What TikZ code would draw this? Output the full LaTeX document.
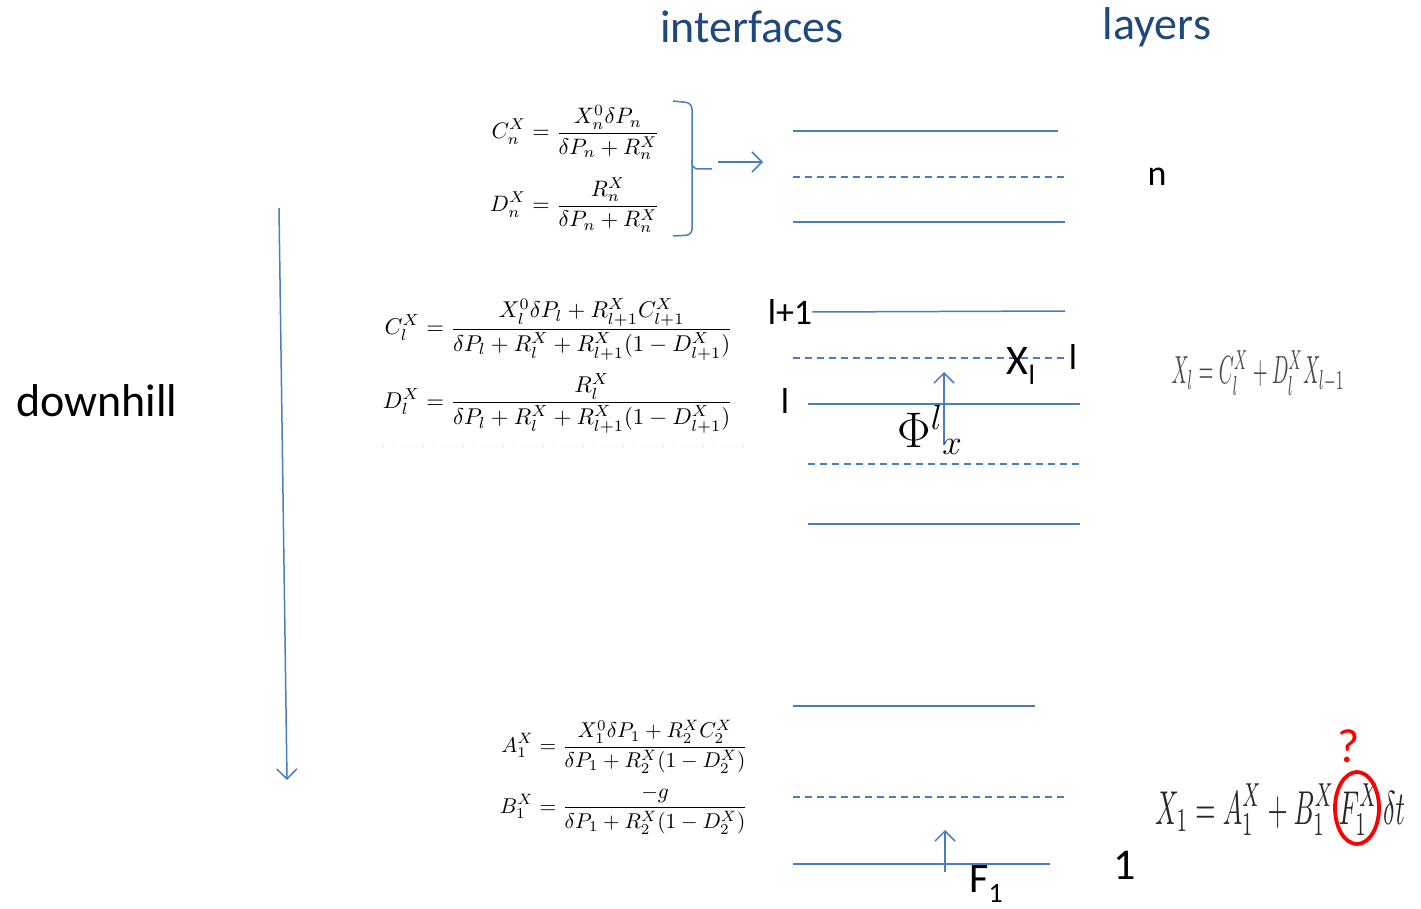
\RequirePackage{fix-cm}
\documentclass[tikz,border=0pt]{standalone}
\usepackage{amsmath}
\usepackage{graphicx}
\usepackage{fontspec}
\newfontfamily\calibri{Carlito}
\usepackage{tikz}
\usetikzlibrary{arrows.meta, shapes.geometric}

\definecolor{lineblue}{RGB}{74,126,187}
\definecolor{titleblue}{RGB}{31,73,125}

\begin{document}
\begin{tikzpicture}[
  x=1pt, y=-1pt,
  layer/.style={lineblue, line width=1.5pt},
  half/.style={layer, dash pattern=on 7pt off 5pt},
  flux/.style={lineblue, line width=1.5pt, -{Straight Barb[length=10pt, width=20pt]}},
  head/.style={font=\calibri\fontsize{46}{54}\selectfont, text=titleblue, inner sep=0pt},
  tag/.style={font=\calibri\fontsize{36}{42}\selectfont, inner sep=0pt},
  eq/.style={inner sep=0pt}
]
\useasboundingbox (0,0) rectangle (1421,909);

% titles
\node[head] (interfaces) at (752,27) {interfaces};
\node[head] (layers) at (1157,27) {layers};
\node[font=\calibri\fontsize{46}{54}\selectfont, inner sep=0pt] (downhill) at (97,401) {downhill};

% top group (layer n)
\node[eq] (eqn) at (575,169) {\resizebox{170pt}{!}{$\begin{aligned}
  C_n^X &= \dfrac{X_n^0\delta P_n}{\delta P_n+R_n^X}\\[4pt]
  D_n^X &= \dfrac{R_n^X}{\delta P_n+R_n^X}\end{aligned}$}};
\draw[layer, rounded corners=6pt] (673,101) -- (692,103) -- (692,169) -- (712,169);
\draw[layer, rounded corners=6pt] (692,160) -- (692,235) -- (673,236);
\coordinate (bracetip) at (718,162);
\coordinate (gapn) at (763,162);
\draw[flux] (bracetip) -- (gapn);
\draw[layer] (793,131) -- (1058,131);
\draw[half] (793,177) -- (1065,177);
\draw[layer] (793,222) -- (1065,222);
\node[tag] (n) at (1157,177) {n};

% middle group (layer l)
\node[eq] (eql) at (558,366) {\resizebox{350pt}{!}{$\begin{aligned}
  C_l^X &= \dfrac{X_l^0\delta P_l+R_{l+1}^X C_{l+1}^X}{\delta P_l+R_l^X+R_{l+1}^X(1-D_{l+1}^X)}\\[2pt]
  D_l^X &= \dfrac{R_l^X}{\delta P_l+R_l^X+R_{l+1}^X(1-D_{l+1}^X)}\end{aligned}$}};
\draw[gray!35, line width=1pt, dash pattern=on 1pt off 9pt] (383,446) -- (745,446);
\node[tag] (lp1) at (790,312) {l+1};
\draw[layer] (lp1.east) -- (1065,311);
\draw[half] (793,358) -- (1065,358);
\node[tag] (ltag) at (785,401) {l};
\draw[layer] (808,404) -- (1080,404);
\draw[half] (808,464) -- (1080,464);
\draw[layer] (808,524) -- (1080,524);
\node[tag, font=\calibri\fontsize{42}{48}\selectfont] (xl) at (1021,366) {X\raisebox{-10pt}{\fontsize{28}{28}\selectfont l}};
\node[tag] (lright) at (1073,357) {l};
\coordinate (phifoot) at (944,445);
\coordinate (phitip) at (944,372);
\draw[flux] (phifoot) -- (phitip);
\node[eq, font=\fontsize{50}{58}\selectfont] (phi) at (930,430) {$\Phi^{l}{}_{x}$};
\node[eq, text=black!72] (xeq) at (1258,373) {\resizebox{173pt}{33pt}{$X_l = C_l^X + D_l^X X_{l-1}$}};

% bottom group (layer 1)
\node[eq] (eq1) at (624,777) {\resizebox{248pt}{!}{$\begin{aligned}
  A_1^X &= \dfrac{X_1^0\delta P_1+R_2^X C_2^X}{\delta P_1+R_2^X(1-D_2^X)}\\[2pt]
  B_1^X &= \dfrac{-g}{\delta P_1+R_2^X(1-D_2^X)}\end{aligned}$}};
\draw[layer] (793,706) -- (1035,706);
\draw[half] (793,797) -- (1066,797);
\draw[layer] (793,864) -- (1050,864);
\coordinate (ffoot) at (945,872);
\coordinate (ftip) at (945,830);
\draw[flux] (ffoot) -- (ftip);
\node[tag, font=\calibri\fontsize{44}{50}\selectfont] (one) at (1125,865) {1};
\node[tag, font=\calibri\fontsize{42}{48}\selectfont] (f1) at (986,884) {F\raisebox{-10pt}{\fontsize{28}{28}\selectfont 1}};
\node[eq, text=black!85] (xeq1) at (1280,810) {\resizebox{250pt}{40pt}{$X_1 = A_1^X + B_1^X\,F_1^X\,\delta t$}};
\node[draw=red, line width=3.8pt, ellipse, minimum width=44pt, minimum height=72pt] (ring) at (1357,808) {};
\node[tag, text=red, font=\calibri\fontsize{48}{54}\selectfont] (query) at (1349,746) {?};

% downhill arrow
\coordinate (dtop) at (279,208);
\coordinate (dbot) at (287,780);
\draw[flux] (dtop) -- (dbot);
\end{tikzpicture}
\end{document}
